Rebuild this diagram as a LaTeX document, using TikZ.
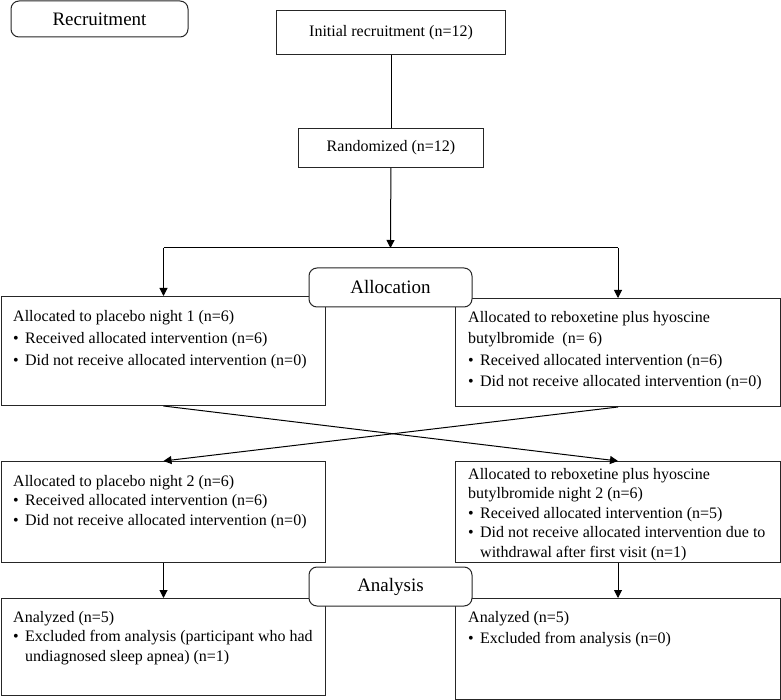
\documentclass[tikz,border=0pt]{standalone}
\usepackage{fontspec}
\setmainfont{Liberation Serif}
\usetikzlibrary{arrows.meta,calc}

\newcommand{\bul}{\makebox[12pt][l]{\textbullet}}
% bullet item running over two lines
\newcommand{\bulpar}[1]{\bul\parbox[t]{300pt}{\raggedright #1}}

\begin{document}
\begin{tikzpicture}
[x=1pt,y=-1pt,
 box/.style={draw=black!85,line width=1pt,rectangle,inner sep=0pt,anchor=north west},
 hdr/.style={draw=black!85,line width=1pt,rectangle,rounded corners=8pt,fill=white,inner sep=0pt,
   minimum width=163pt,minimum height=39pt,font=\fontsize{19}{22}\selectfont},
 txt/.style={anchor=north west,inner sep=0pt,align=left,font=\fontsize{16}{21}\selectfont},
 arr/.style={line width=1pt,-{Triangle[length=8pt,width=8pt]}}]
\useasboundingbox (0,0) rectangle (781,700);
% top part
\node[hdr,minimum width=177pt,minimum height=36pt] (recruit) at (99.5,19) {Recruitment};
\node[box,minimum width=229pt,minimum height=44pt,font=\fontsize{16}{21}\selectfont] (init) at (276,10) {Initial recruitment (n=12)};
\node[box,minimum width=185pt,minimum height=39pt,font=\fontsize{16}{21}\selectfont] (rand) at (298,128) {Randomized (n=12)};
\coordinate (split) at (390.5,248);
% boxes
\node[box,minimum width=324pt,minimum height=109pt] (L1) at (1,296) {};
\node[box,minimum width=325pt,minimum height=108pt] (R1) at (455,298) {};
\node[box,minimum width=324pt,minimum height=101pt] (L2) at (1,461) {};
\node[box,minimum width=325pt,minimum height=101pt] (R2) at (455,461) {};
\node[box,minimum width=324pt,minimum height=97pt] (L3) at (1,598) {};
\node[box,minimum width=325pt,minimum height=101pt] (R3) at (455,598) {};
% texts
\node[txt,font=\fontsize{16}{22}\selectfont] (L1txt) at ($(L1.north west)+(12,14)$)
  {Allocated to placebo night 1 (n=6)\\ \bul Received allocated intervention (n=6)\\ \bul Did not receive allocated intervention (n=0)};
\node[txt,font=\fontsize{16}{21.5}\selectfont] (R1txt) at ($(R1.north west)+(13,13)$)
  {Allocated to reboxetine plus hyoscine\\ butylbromide\ \ (n= 6)\\ \bul Received allocated intervention (n=6)\\ \bul Did not receive allocated intervention (n=0)};
\node[txt,font=\fontsize{16}{19.5}\selectfont] (L2txt) at ($(L2.north west)+(12,14)$)
  {Allocated to placebo night 2 (n=6)\\ \bul Received allocated intervention (n=6)\\ \bul Did not receive allocated intervention (n=0)};
\node[txt,font=\fontsize{16}{19.5}\selectfont] (R2txt) at ($(R2.north west)+(13,7)$)
  {Allocated to reboxetine plus hyoscine\\ butylbromide night 2 (n=6)\\ \bul Received allocated intervention (n=5)\\
   \bulpar{Did not receive allocated intervention due to\\ withdrawal after first visit (n=1)}};
\node[txt,font=\fontsize{16}{19.5}\selectfont] (L3txt) at ($(L3.north west)+(12,13)$)
  {Analyzed (n=5)\\ \bulpar{Excluded from analysis (participant who had\\ undiagnosed sleep apnea) (n=1)}};
\node[txt] (R3txt) at ($(R3.north west)+(13,13)$)
  {Analyzed (n=5)\\ \bul Excluded from analysis (n=0)};
% connectors
\draw[line width=1pt] (init) -- (rand);
\draw[arr] (rand) -- (split);
\draw[line width=1pt] (split -| L1.north) -- (split -| R1.north);
\draw[arr] (split -| L1.north) -- (L1.north);
\draw[arr] (split -| R1.north) -- (R1.north);
\draw[arr] (L1.south) -- (R2.north);
\draw[arr] (R1.south) -- (L2.north);
\draw[arr] (L2) -- (L3);
\draw[arr] (R2) -- (R3);
% stage headers
\node[hdr] (alloc) at (390.5,287.5) {Allocation};
\node[hdr] (analysis) at (390.5,586.5) {Analysis};
\end{tikzpicture}
\end{document}
